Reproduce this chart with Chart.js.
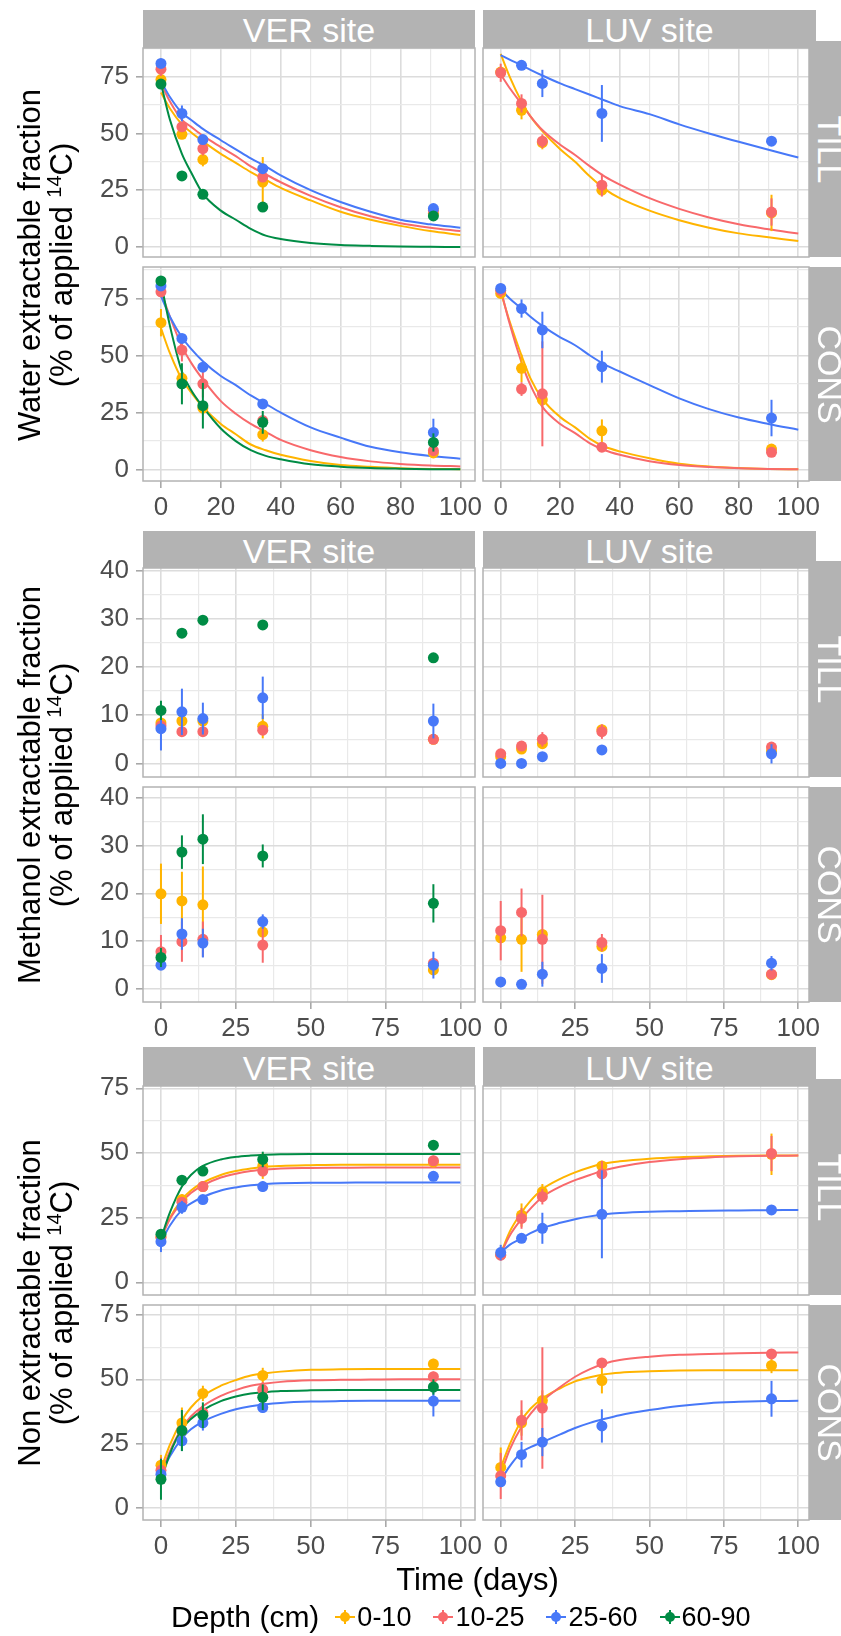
<!DOCTYPE html>
<html>
<head>
<meta charset="utf-8">
<script src="https://cdn.jsdelivr.net/npm/chart.js@4.4.1/dist/chart.umd.min.js"></script>
<style>
body { margin: 0; background: #fff; }
#page { position: relative; width: 841px; height: 1636px; overflow: hidden; font-family: 'Liberation Sans', Arial, sans-serif; }
canvas { position: absolute; }
.strip { position: absolute; background: #b3b3b3; color: #fff; font-size: 34px; display: flex; align-items: center; justify-content: center; z-index: 2; overflow: hidden; }
.strip span { white-space: nowrap; }
.rowstrip span { transform: rotate(90deg); }
.ytitle { position: absolute; width: 520px; height: 64px; line-height: 32px; font-size: 31px; text-align: center; color: #000; transform: rotate(-90deg); white-space: nowrap; }
.ytitle sup { font-size: 20px; line-height: 0; }
#legend { position: absolute; left: 171px; top: 1598px; height: 38px; display: flex; align-items: center; color: #000; }
#legend .title { font-size: 30px; margin-right: 16px; }
#legend .item { display: flex; align-items: center; margin-right: 22px; font-size: 27px; }
#legend svg { margin-right: 2px; }
</style>
</head>
<body>
<div id="page"></div>
<script>
// ---------- data ----------
const days = [0, 7, 14, 34, 91];
const fitDays = [0, 3, 7, 10, 14, 20, 25, 30, 35, 40, 50, 60, 70, 80, 90, 100];
const depths = ['0-10', '10-25', '25-60', '60-90'];
const depthColors = ['#FFB400', '#F8696B', '#4778F8', '#008C45'];

const waterXTicks = [0, 20, 40, 60, 80, 100];
const timeXTicks = [0, 25, 50, 75, 100];
const waterYTicks = [0, 25, 50, 75];
const methanolYTicks = [0, 10, 20, 30, 40];
const nonYTicks = [0, 25, 50, 75];

// Water extractable fraction, one row per depth
const waterVerTill = [[73.7, 49.6, 38.5, 28.6, 14.7], [78.3, 52.9, 43.3, 30.8, 16], [80.8, 58.8, 47.3, 34.5, 16.9], [71.7, 31.3, 23.2, 17.6, 13.7]];
const waterVerTillSd = [[2, 1.5, 3, 11, 3], [3, 2, 3, 2, 3], [2, 3.5, 1.5, 2, 1.5], [1.5, 1.5, 1, 1, 1.5]];
const waterVerTillFit = [
  [68, 61, 54, 50.5, 46.5, 41, 37, 33, 29.5, 26, 20.5, 15.5, 12, 9.3, 7, 5.3],
  [72, 64, 56, 53, 49, 44, 40, 35.5, 32, 28.5, 22.5, 17.5, 13.5, 10.5, 8.5, 7],
  [73, 66, 59, 56, 52, 47, 43, 39, 35.5, 31.5, 25, 19.8, 15.5, 12, 10, 8.5],
  [72, 56, 41, 33, 23.5, 16, 12, 8, 5, 3.5, 1.8, 0.9, 0.5, 0.2, 0.1, 0]];
const waterVerCons = [[64.4, 40, 27, 15.3, 7.3], [77.9, 52.4, 37.6, 21.5, 8.3], [80.5, 57.5, 44.9, 28.8, 16.3], [82.7, 37.6, 28, 20.7, 11.9]];
const waterVerConsSd = [[6, 3, 3, 3, 2], [2, 5, 6, 2, 2], [2, 1.5, 1.5, 1.5, 6], [2, 9, 10, 5, 4]];
const waterVerConsFit = [
  [62, 51, 39.5, 34, 27.5, 20, 15.5, 11, 8.5, 6.5, 3.8, 2, 1.2, 0.6, 0.3, 0.2],
  [78, 67, 54, 47, 39.5, 30, 24.5, 20, 16.5, 13, 8.5, 5.5, 3.6, 2.5, 1.8, 1.4],
  [76, 67, 58, 53, 47.5, 41, 37, 32.5, 28.8, 25, 18.5, 14, 10, 7.6, 6, 4.8],
  [82, 63, 43, 35, 27.5, 18, 12.5, 8.5, 6, 4.5, 2.3, 1.3, 0.7, 0.4, 0.2, 0.1]];
const waterLuvTill = [[77, 60.2, 46, 25, 15], [76.7, 63.2, 46.6, 27.2, 15.4], [null, 80, 72, 58.8, 46.6]];
const waterLuvTillSd = [[1, 4, 3, 2, 8], [4, 4, 3, 5, 6], [0, 1, 6, 12.5, 1]];
const waterLuvTillFit = [
  [85, 75, 64, 57.5, 51, 43, 37.5, 31, 25.5, 21.5, 16, 11.8, 8.5, 6, 4.3, 2.6],
  [76, 70, 63, 57.5, 51.5, 45, 40.5, 35.5, 31, 27.5, 21.5, 16.8, 13, 10, 7.8, 5.9],
  [84.5, 82.5, 80, 78, 75.5, 72, 69.5, 67, 64.5, 62, 58.5, 54, 50, 46.3, 42.8, 39.4]];
const waterLuvCons = [[77.2, 44.4, 30.6, 17, 9], [78.6, 35.3, 33.2, 9.8, 7.6], [79.4, 70.6, 61.2, 45.1, 22.6]];
const waterLuvConsSd = [[1, 6, 3, 5, 2], [3, 3, 23, 1, 1], [1, 4, 8, 7, 8]];
const waterLuvConsFit = [
  [78, 65, 50, 40, 31, 23, 18.5, 13.5, 10, 8, 5, 2.6, 1.4, 0.7, 0.3, 0.1],
  [79, 64, 47, 37, 27.5, 20, 16, 11.5, 8.5, 6.5, 3.7, 2, 1.1, 0.6, 0.3, 0.1],
  [79, 75, 70.5, 67, 63, 58, 54.5, 50, 46, 43, 37, 31.2, 26.5, 22.8, 20, 17.5]];

// Methanol extractable fraction
const methVerTill = [[8.4, 8.8, 8.8, 7.7, 5], [7.8, 6.6, 6.6, 6.9, 5], [7.2, 10.7, 9.3, 13.6, 8.8], [11, 27, 29.7, 28.7, 21.9]];
const methVerTillSd = [[1, 1, 1, 2.5, 0.5], [1, 0.8, 0.8, 1, 0.5], [4.5, 4.8, 3.3, 4.4, 3.6], [2, 0.5, 1, 0.5, 0.5]];
const methVerCons = [[19.9, 18.4, 17.6, 11.9, 4], [7.8, 9.9, 10.4, 9.2, 5.4], [5, 11.5, 9.6, 14.1, 5], [6.6, 28.6, 31.3, 27.8, 17.9]];
const methVerConsSd = [[6.3, 6.1, 8, 1, 1], [3.5, 4.2, 3.7, 3.7, 1], [0.5, 3.3, 3, 1.5, 2.8], [2, 3.5, 5.2, 2.4, 4]];
const methLuvTill = [[1.4, 3, 4.1, 7, 2.6], [2, 3.6, 5, 6.6, 3.4], [0, 0, 1.4, 2.8, 2]];
const methLuvTillSd = [[0.5, 0.5, 1, 0.5, 0.5], [0.5, 0.5, 1.5, 1.5, 0.5], [0.3, 0.3, 0.3, 0.5, 2]];
const methLuvCons = [[10.7, 10.4, 11.4, 8.9, 3], [12.2, 16, 10.4, 9.7, 3.1], [1.5, 1, 3.1, 4.3, 5.4]];
const methLuvConsSd = [[1, 6.8, 1, 1, 0.5], [6.2, 5, 9.3, 1.8, 0.5], [0.5, 0.5, 2.6, 3, 1.5]];

// Non extractable fraction
const nonVerTill = [[17.5, 32, 37, 45, 46.5], [17.5, 31, 37, 43, 47], [15.7, 29, 32, 37, 41], [18.6, 39.5, 43, 47.5, 53]];
const nonVerTillSd = [[2, 2, 2, 5, 2], [2, 2, 2, 2, 2], [4, 2.5, 1.5, 2, 1.5], [2, 1.5, 1.5, 3, 2]];
const nonVerTillFit = [
  [17, 25, 32, 35.5, 38.5, 41.5, 43, 44, 44.7, 45, 45.3, 45.5, 45.5, 45.5, 45.5, 45.5],
  [17, 24.5, 31, 34.5, 37.5, 40.5, 42, 43, 43.6, 44, 44.2, 44.3, 44.4, 44.4, 44.4, 44.4],
  [15.5, 22, 28, 30.5, 33, 35.5, 36.7, 37.5, 38, 38.3, 38.5, 38.5, 38.6, 38.6, 38.6, 38.6],
  [17, 27, 37, 41.5, 45, 47.5, 48.5, 49, 49.3, 49.5, 49.6, 49.6, 49.6, 49.6, 49.6, 49.6]];
const nonVerCons = [[16.5, 33, 44.5, 51.5, 56], [14.5, 30, 37, 46, 51], [13, 26, 33, 39, 41.5], [11, 30, 36, 43, 47]];
const nonVerConsSd = [[4, 6, 3, 3, 2], [5, 4, 3, 3, 2], [3, 4, 3, 2, 6], [8, 8, 5, 5, 3]];
const nonVerConsFit = [
  [15, 24.5, 34, 39, 43.5, 47.5, 49.7, 51.5, 52.4, 53, 53.7, 53.9, 54, 54, 54, 54],
  [13, 22, 31, 35.5, 39.5, 43.5, 45.8, 47.5, 48.4, 49, 49.6, 49.8, 49.9, 50, 50, 50],
  [13, 20, 27, 30.5, 33.5, 36.5, 38.3, 39.5, 40.3, 40.8, 41.3, 41.5, 41.6, 41.6, 41.6, 41.6],
  [10.5, 21, 30.5, 34.5, 38, 41.5, 43.3, 44.5, 45, 45.4, 45.7, 45.8, 45.8, 45.8, 45.8, 45.8]];
const nonLuvTill = [[10.7, 26, 35, 45, 49.5], [10.5, 24.7, 33.1, 41.9, 49.8], [11.5, 17, 20.9, 26.3, 28]];
const nonLuvTillSd = [[2, 4.5, 3, 2, 8], [2, 4, 3, 5, 6.8], [3, 1, 6, 17, 1]];
const nonLuvTillFit = [
  [11, 19.5, 27, 31.5, 36, 40, 42.5, 44.5, 46, 46.8, 47.8, 48.4, 48.7, 48.9, 49, 49],
  [11, 18, 24.5, 28.5, 33, 37, 39.5, 41.5, 43.4, 44.7, 46.5, 47.6, 48.3, 48.7, 48.9, 49],
  [11.5, 14.5, 17, 19, 21, 23, 24.4, 25.5, 26.3, 26.8, 27.3, 27.5, 27.7, 27.8, 27.9, 28]];
const nonLuvCons = [[15.6, 33, 41.7, 49.5, 55.4], [12.3, 34, 38.8, 56.4, 59.9], [10, 20.6, 25.5, 31.8, 42.4]];
const nonLuvConsSd = [[7.8, 5, 4, 5, 3], [9, 7.8, 23.7, 1, 1], [2, 5, 5.5, 6.5, 7]];
const nonLuvConsFit = [
  [15.5, 24.5, 34, 38.5, 42.5, 46.5, 49.2, 50.8, 52, 52.6, 53.1, 53.4, 53.5, 53.5, 53.5, 53.5],
  [13, 22.5, 31.5, 36.5, 41.5, 47, 51, 54, 56.2, 57.5, 58.8, 59.6, 59.9, 60.2, 60.4, 60.5],
  [10.5, 16, 21.5, 23.5, 25.5, 28.5, 31, 33, 34.6, 36, 38, 39.6, 40.7, 41.2, 41.5, 41.6]];

// ---------- layout ----------
const FONT = "'Liberation Sans', Arial, sans-serif";
const PAD = 24, Y_AXIS_W = 60, X_AXIS_H = 46;
const cols = [
  { left: 143, right: 475, min: -6.0, max: 104.9, stripRight: 475, label: 'VER site' },
  { left: 483, right: 809, min: -5.95, max: 103.6, stripRight: 816, label: 'LUV site' }
];
const rowLabels = ['TILL', 'CONS'];
const groups = [
  { stripTop: 10, xTicks: waterXTicks, yTicks: waterYTicks,
    title: 'Water extractable fraction',
    rows: [{ top: 48, bottom: 257, min: -4.4, max: 87.6 }, { top: 267, bottom: 481, min: -5.0, max: 88.8 }],
    panels: [[[waterVerTill, waterVerTillSd, waterVerTillFit], [waterLuvTill, waterLuvTillSd, waterLuvTillFit]],
             [[waterVerCons, waterVerConsSd, waterVerConsFit], [waterLuvCons, waterLuvConsSd, waterLuvConsFit]]] },
  { stripTop: 531, xTicks: timeXTicks, yTicks: methanolYTicks,
    title: 'Methanol extractable fraction',
    rows: [{ top: 568, bottom: 777, min: -2.8, max: 40.5 }, { top: 787, bottom: 1002, min: -2.7, max: 42.2 }],
    panels: [[[methVerTill, methVerTillSd, null], [methLuvTill, methLuvTillSd, null]],
             [[methVerCons, methVerConsSd, null], [methLuvCons, methLuvConsSd, null]]] },
  { stripTop: 1047, xTicks: timeXTicks, yTicks: nonYTicks,
    title: 'Non extractable fraction',
    rows: [{ top: 1086, bottom: 1295, min: -4.9, max: 75.9 }, { top: 1305, bottom: 1520, min: -4.9, max: 79 }],
    panels: [[[nonVerTill, nonVerTillSd, nonVerTillFit], [nonLuvTill, nonLuvTillSd, nonLuvTillFit]],
             [[nonVerCons, nonVerConsSd, nonVerConsFit], [nonLuvCons, nonLuvConsSd, nonLuvConsFit]]] }
];

// error bars (pointrange) drawn through the chart scales
const errorBars = {
  id: 'errorBars',
  beforeDatasetDraw(chart, args) {
    const ds = chart.data.datasets[args.index];
    if (!ds.withSd) return;
    const { ctx, scales } = chart;
    ctx.save();
    ctx.strokeStyle = ds.backgroundColor;
    ctx.lineWidth = 2;
    ds.data.forEach(pt => {
      if (!pt.sd) return;
      const px = scales.x.getPixelForValue(pt.x);
      ctx.beginPath();
      ctx.moveTo(px, scales.y.getPixelForValue(pt.y - pt.sd));
      ctx.lineTo(px, scales.y.getPixelForValue(pt.y + pt.sd));
      ctx.stroke();
    });
    ctx.restore();
  }
};

// grey panel frame
const panelBorder = {
  id: 'panelBorder',
  afterDatasetsDraw(chart) {
    const { ctx, chartArea: a } = chart;
    ctx.save();
    ctx.strokeStyle = '#b3b3b3';
    ctx.lineWidth = 1.5;
    ctx.strokeRect(a.left, a.top, a.right - a.left, a.bottom - a.top);
    ctx.restore();
  }
};

function minorBreaks(majors, min, max) {
  const step = majors[1] - majors[0];
  const out = [];
  for (let v = majors[0] - step / 2; v <= max; v += step) {
    if (v >= min && !majors.includes(v)) out.push(v);
  }
  return out;
}

function scaleOpts(axis, min, max, majors, showLabels) {
  const all = majors.concat(minorBreaks(majors, min, max)).sort((a, b) => a - b);
  const isMajor = c => c.tick && majors.includes(c.tick.value);
  return {
    type: 'linear',
    min: min,
    max: max,
    afterBuildTicks: s => { s.ticks = all.map(v => ({ value: v })); },
    afterFit: s => {
      if (axis === 'x') s.height = showLabels ? X_AXIS_H : 0;
      else s.width = showLabels ? Y_AXIS_W : 0;
    },
    border: { display: false },
    grid: {
      color: c => isMajor(c) ? '#dcdcdc' : '#e9e9e9',
      lineWidth: c => isMajor(c) ? 1.6 : 1.2,
      drawTicks: showLabels,
      tickLength: 7,
      tickColor: c => isMajor(c) ? '#a8a8a8' : 'rgba(0,0,0,0)'
    },
    ticks: {
      display: showLabels,
      autoSkip: false,
      maxRotation: 0,
      padding: axis === 'x' ? 4 : 7,
      color: '#4d4d4d',
      font: { family: FONT, size: 26 },
      callback: v => majors.includes(v) ? String(v) : ''
    }
  };
}

function buildDatasets(mean, sd, fit) {
  const datasets = [];
  mean.forEach((vals, d) => {
    if (fit) {
      datasets.push({
        data: fitDays.map((x, i) => ({ x: x, y: fit[d][i] })),
        showLine: true,
        borderColor: depthColors[d],
        borderWidth: 2,
        pointRadius: 0,
        cubicInterpolationMode: 'monotone',
        order: 10 + (3 - d)
      });
    }
    datasets.push({
      data: days.map((x, i) => ({ x: x, y: vals[i], sd: sd[d][i] })).filter(p => p.y !== null),
      withSd: true,
      backgroundColor: depthColors[d],
      borderColor: depthColors[d],
      pointRadius: 5.5,
      pointBorderWidth: 0,
      order: 3 - d
    });
  });
  return datasets;
}

const page = document.getElementById('page');

function addDiv(cls, style, html) {
  const el = document.createElement('div');
  el.className = cls;
  Object.assign(el.style, style);
  el.innerHTML = html;
  page.appendChild(el);
  return el;
}

groups.forEach(g => {
  g.rows.forEach((row, r) => {
    cols.forEach((col, c) => {
      const [mean, sd, fit] = g.panels[r][c];
      const yLab = c === 0, xLab = r === 1;
      const w = (col.right - col.left) + 2 * PAD + (yLab ? Y_AXIS_W : 0);
      const h = (row.bottom - row.top) + 2 * PAD + (xLab ? X_AXIS_H : 0);
      const cv = document.createElement('canvas');
      cv.width = w; cv.height = h;
      cv.style.left = (col.left - PAD - (yLab ? Y_AXIS_W : 0)) + 'px';
      cv.style.top = (row.top - PAD) + 'px';
      cv.style.width = w + 'px'; cv.style.height = h + 'px';
      page.appendChild(cv);
      new Chart(cv, {
        type: 'scatter',
        data: { datasets: buildDatasets(mean, sd, fit) },
        options: {
          responsive: false,
          animation: false,
          devicePixelRatio: 1,
          layout: { padding: PAD },
          plugins: { legend: { display: false }, tooltip: { enabled: false } },
          scales: {
            x: scaleOpts('x', col.min, col.max, g.xTicks, xLab),
            y: scaleOpts('y', row.min, row.max, g.yTicks, yLab)
          }
        },
        plugins: [errorBars, panelBorder]
      });
    });
    // row strip on the right
    const top = r === 0 ? row.top - 7 : row.top;
    addDiv('strip rowstrip', { left: '809px', top: top + 'px', width: '40px', height: (row.bottom - top) + 'px' },
      '<span>' + rowLabels[r] + '</span>');
  });
  // column strips
  cols.forEach(col => {
    addDiv('strip', { left: col.left + 'px', top: g.stripTop + 'px', width: (col.stripRight - col.left) + 'px',
      height: (g.rows[0].top - g.stripTop) + 'px', paddingTop: '3px', boxSizing: 'border-box' },
      '<span>' + col.label + '</span>');
  });
  // y axis title
  const cy = (g.rows[0].top + g.rows[1].bottom) / 2;
  addDiv('ytitle', { left: (46 - 260) + 'px', top: (cy - 32) + 'px' },
    g.title + '<br>(% of applied <sup>14</sup>C)');
});

addDiv('', { position: 'absolute', left: '0px', width: '955px', top: '1562px', textAlign: 'center', fontSize: '31px' }, 'Time (days)');

const legend = addDiv('', {}, '');
legend.id = 'legend';
legend.innerHTML = '<span class="title">Depth (cm)</span>' + depths.map((d, i) =>
  '<span class="item"><svg width="20" height="20"><line x1="0" y1="10" x2="20" y2="10" stroke="' + depthColors[i] +
  '" stroke-width="2"/><line x1="10" y1="3" x2="10" y2="17" stroke="' + depthColors[i] +
  '" stroke-width="2"/><circle cx="10" cy="10" r="5" fill="' + depthColors[i] + '"/></svg>' + d + '</span>').join('');
</script>
</body>
</html>
